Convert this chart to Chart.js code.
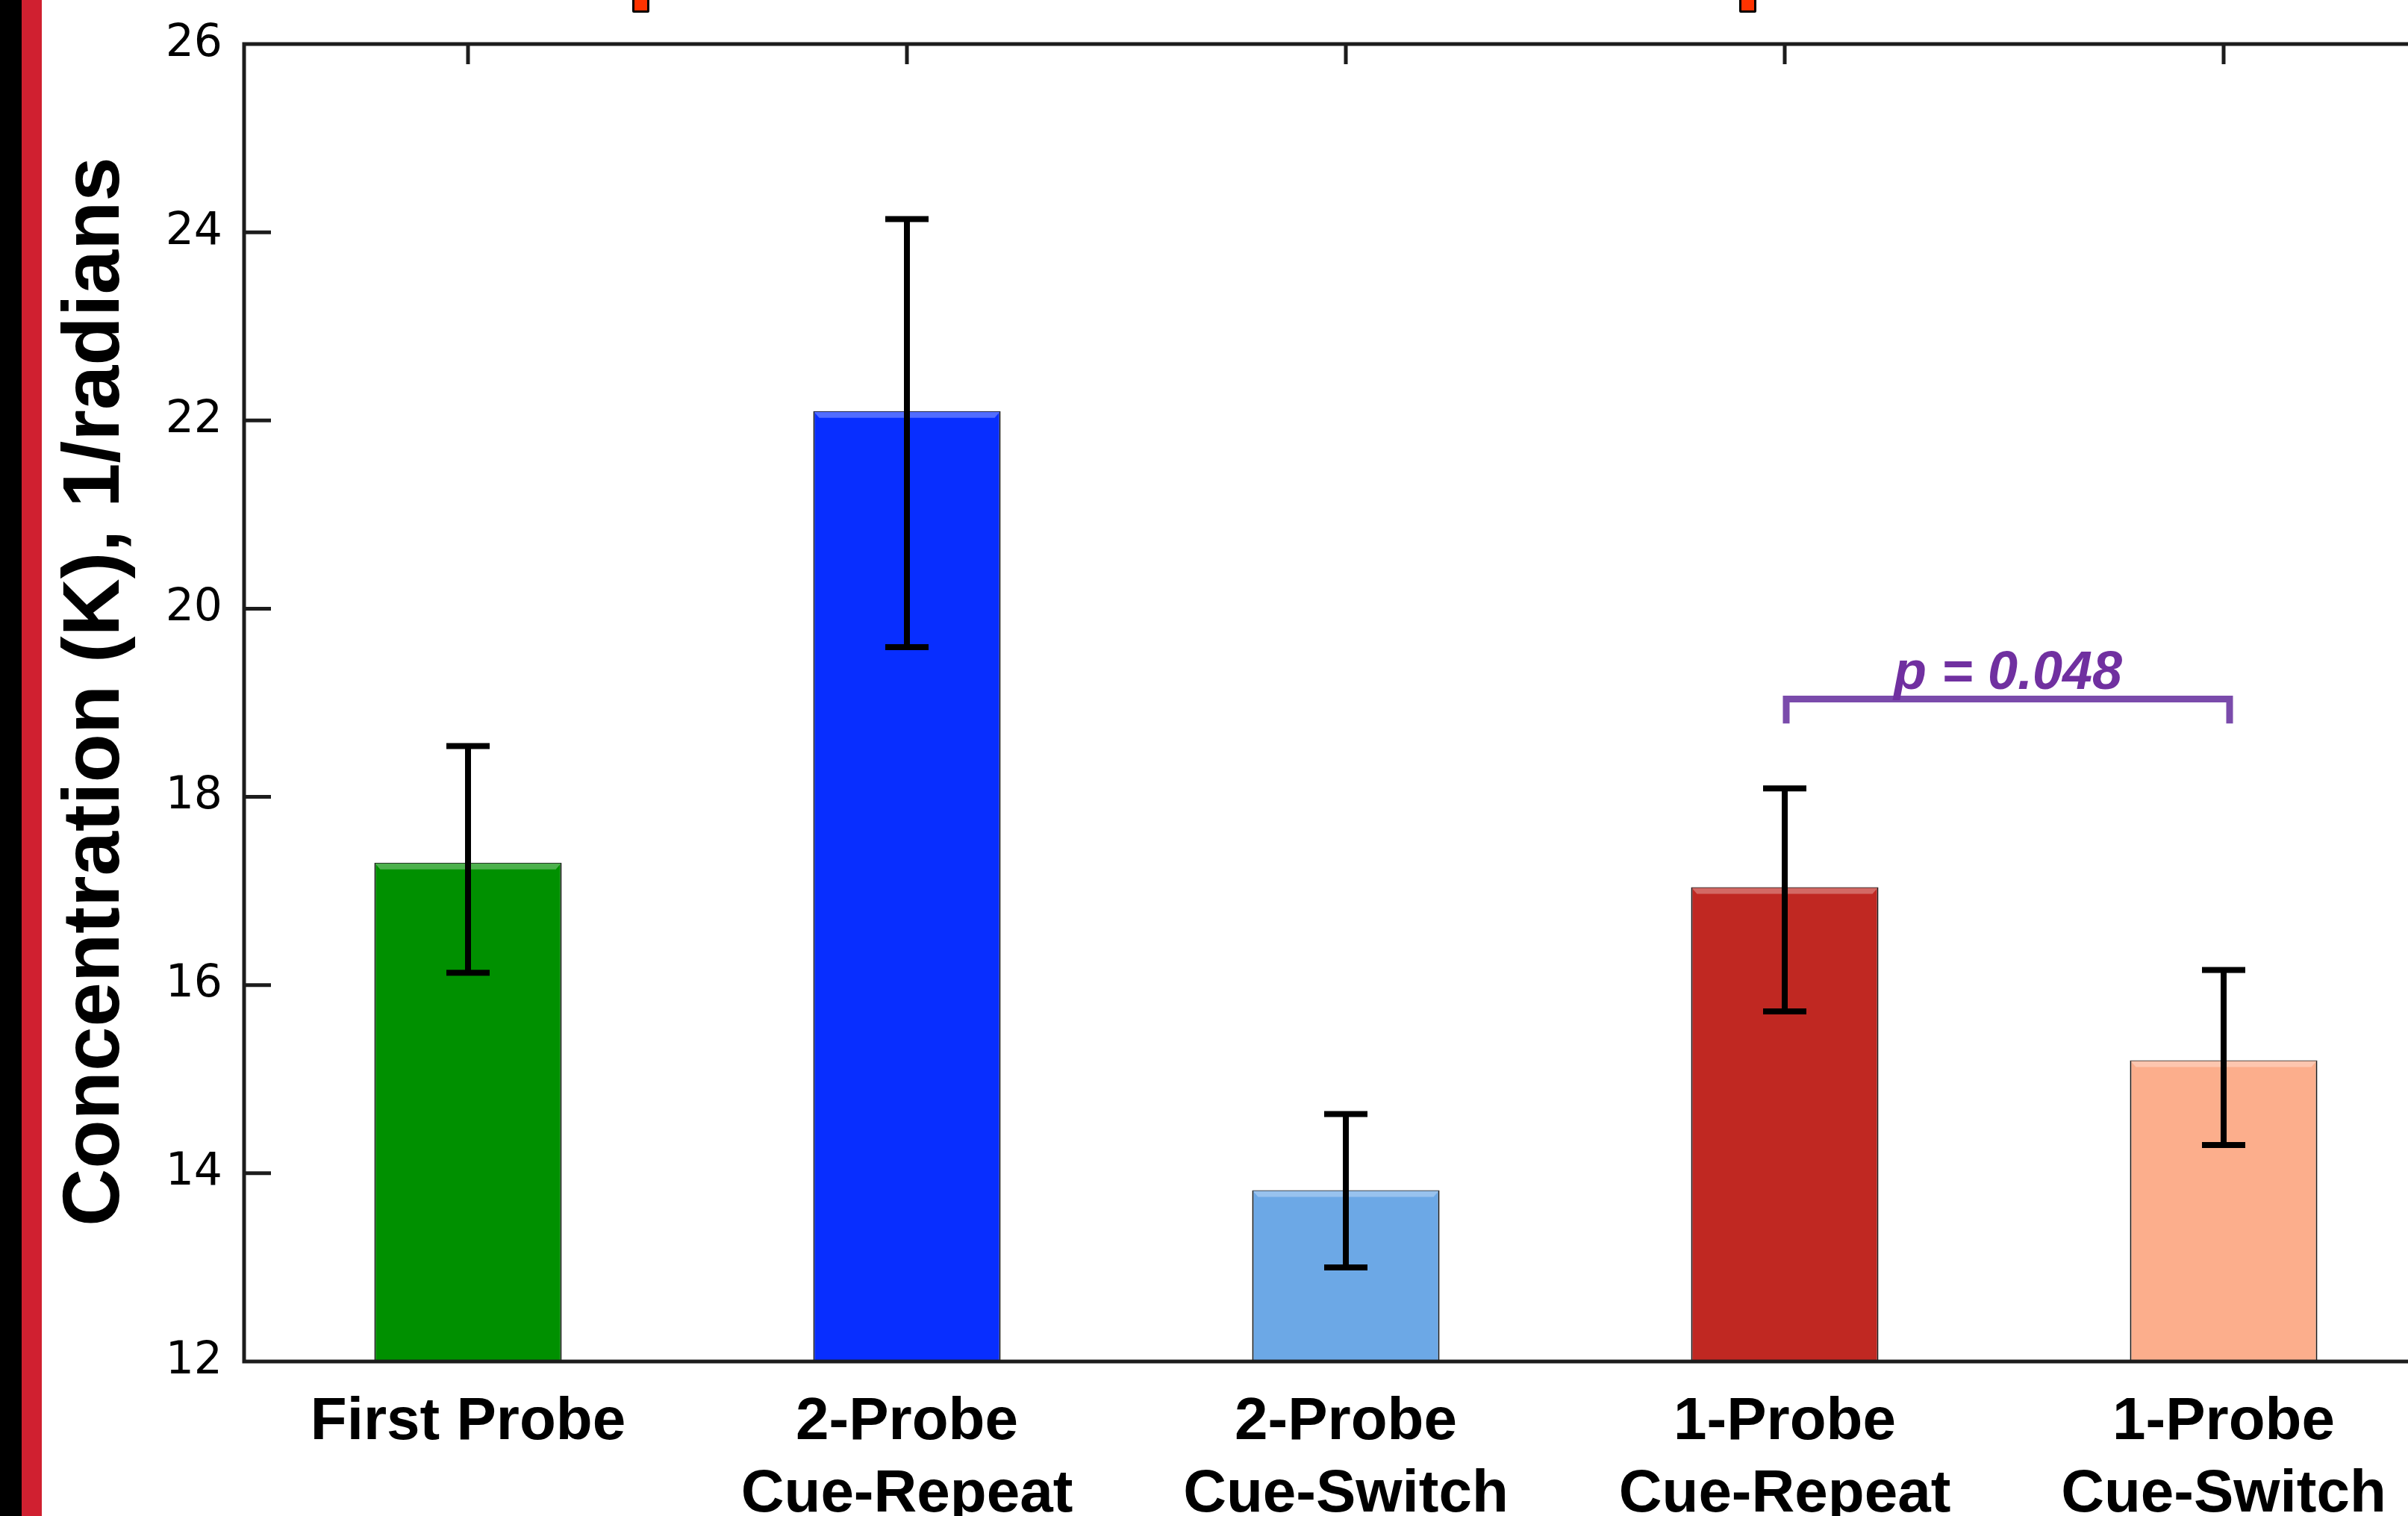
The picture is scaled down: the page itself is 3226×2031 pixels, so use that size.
<!DOCTYPE html>
<html>
<head>
<meta charset="utf-8">
<script src="https://cdn.jsdelivr.net/npm/chart.js@4.4.1/dist/chart.umd.min.js"></script>
<style>
    html, body { margin: 0; padding: 0; background: #ffffff; }
    #page { position: relative; width: 3226px; height: 2031px; overflow: hidden; }
    #chartCanvas { position: absolute; left: 0; top: 0; }
    .stripe { position: absolute; top: 0; height: 2031px; z-index: 2; }
    .cut-bar { position: absolute; top: -4px; width: 17px; height: 15px; background: #ff3300; border: 3px solid #000; border-radius: 2px; z-index: 2; }
</style>
</head>
<body>
<div id="page">
    <div class="stripe" style="left:0; width:29px; background:#000;"></div>
    <div class="stripe" style="left:29px; width:27px; background:#d02030;"></div>
    <div class="cut-bar" style="left:847px;"></div>
    <div class="cut-bar" style="left:2330px;"></div>
    <canvas id="chartCanvas" width="3300" height="2031"></canvas>
</div>
<script>
// Data
const categories = ['First Probe', ['2-Probe', 'Cue-Repeat'], ['2-Probe', 'Cue-Switch'], ['1-Probe', 'Cue-Repeat'], ['1-Probe', 'Cue-Switch']];
const meanValues = [17.3, 22.1, 13.82, 17.04, 15.2];
const errorHigh = [18.54, 24.14, 14.63, 18.09, 16.16];
const errorLow = [16.13, 19.59, 13.0, 15.72, 14.3];
const barColors = ['#009000', '#082eff', '#6ca8e6', '#c02822', '#fcae8c'];
const yMin = 12;
const yMax = 26;
const yStep = 2;

// significance bracket between 1-Probe bars
const pairFrom = 3;
const pairTo = 4;
const bracketLevel = 19.04;
const bracketEnd = 18.78;
const pLabel = 'p = 0.048';

// the drawn axis line sits a little left of the category band
const axisInset = 6;

function lighten(hex, amt) {
    const n = parseInt(hex.slice(1), 16);
    const r = (n >> 16) & 255, g = (n >> 8) & 255, b = n & 255;
    const mix = c => Math.round(c + (255 - c) * amt);
    return `rgb(${mix(r)}, ${mix(g)}, ${mix(b)})`;
}

// bevel on top of bars, error bars, axis box and the p-value bracket
const decorations = {
    id: 'decorations',
    afterDatasetsDraw(chart) {
        const ctx = chart.ctx;
        const area = chart.chartArea;
        const xScale = chart.scales.x;
        const yScale = chart.scales.y;
        const bars = chart.getDatasetMeta(0).data;
        const boxLeft = area.left - axisInset;

        ctx.save();
        bars.forEach((bar, i) => {
            const half = bar.width / 2;
            const l = bar.x - half + 1, r = bar.x + half - 1, t = bar.y + 1;
            ctx.fillStyle = lighten(barColors[i], 0.3);
            ctx.beginPath();
            ctx.moveTo(l, t);
            ctx.lineTo(r, t);
            ctx.lineTo(r - 7, t + 8);
            ctx.lineTo(l + 7, t + 8);
            ctx.closePath();
            ctx.fill();
        });

        // axis box
        ctx.strokeStyle = '#1c1c1c';
        ctx.lineWidth = 5;
        ctx.strokeRect(boxLeft, area.top, area.right - boxLeft, area.bottom - area.top);

        // inward ticks
        ctx.beginPath();
        yScale.ticks.forEach(t => {
            if (t.value === yMin || t.value === yMax) return;
            const py = yScale.getPixelForValue(t.value);
            ctx.moveTo(boxLeft, py);
            ctx.lineTo(boxLeft + 36, py);
        });
        categories.forEach((c, i) => {
            const px = xScale.getPixelForValue(i);
            ctx.moveTo(px, area.top);
            ctx.lineTo(px, area.top + 27);
        });
        ctx.stroke();

        // error bars
        ctx.strokeStyle = '#000';
        ctx.lineWidth = 8;
        ctx.lineCap = 'butt';
        bars.forEach((bar, i) => {
            const hi = yScale.getPixelForValue(errorHigh[i]);
            const lo = yScale.getPixelForValue(errorLow[i]);
            ctx.beginPath();
            ctx.moveTo(bar.x, hi);
            ctx.lineTo(bar.x, lo);
            ctx.moveTo(bar.x - 29, hi);
            ctx.lineTo(bar.x + 29, hi);
            ctx.moveTo(bar.x - 29, lo);
            ctx.lineTo(bar.x + 29, lo);
            ctx.stroke();
        });

        // p-value bracket
        const x1 = xScale.getPixelForValue(pairFrom) + 2;
        const x2 = xScale.getPixelForValue(pairTo) + 8;
        const yb = yScale.getPixelForValue(bracketLevel);
        const ye = yScale.getPixelForValue(bracketEnd);
        ctx.strokeStyle = '#7a4bab';
        ctx.lineWidth = 9;
        ctx.lineJoin = 'miter';
        ctx.beginPath();
        ctx.moveTo(x1, ye);
        ctx.lineTo(x1, yb);
        ctx.lineTo(x2, yb);
        ctx.lineTo(x2, ye);
        ctx.stroke();

        ctx.fillStyle = '#7030a0';
        ctx.font = 'italic bold 72px "Liberation Sans", Arial, sans-serif';
        ctx.textAlign = 'center';
        ctx.textBaseline = 'alphabetic';
        ctx.fillText(pLabel, (x1 + x2) / 2, yb - 13);
        ctx.restore();
    }
};

document.addEventListener('DOMContentLoaded', function() {
    const ctx = document.getElementById('chartCanvas').getContext('2d');
    new Chart(ctx, {
        type: 'bar',
        data: {
            labels: categories,
            datasets: [{
                data: meanValues,
                backgroundColor: barColors,
                borderColor: '#1a1a1a',
                borderWidth: 2,
                borderSkipped: false,
                barPercentage: 0.427,
                categoryPercentage: 1.0
            }]
        },
        options: {
            responsive: false,
            animation: false,
            devicePixelRatio: 1,
            layout: {
                padding: { top: 59, left: 0, right: 27, bottom: 0 }
            },
            plugins: {
                legend: { display: false },
                tooltip: { enabled: false }
            },
            scales: {
                x: {
                    grid: { display: false, drawTicks: false },
                    border: { display: false },
                    afterFit(scale) { scale.height = 207; },
                    ticks: {
                        color: '#000',
                        padding: 34,
                        maxRotation: 0,
                        autoSkip: false,
                        font: { family: '"Liberation Sans", Arial, sans-serif', size: 80, weight: 'bold', lineHeight: 1.21 }
                    }
                },
                y: {
                    min: yMin,
                    max: yMax,
                    grid: { display: false, drawTicks: false },
                    border: { display: false },
                    afterFit(scale) {
                        scale.width = 327 + axisInset;
                        // keep the tick label overhang from pushing the plot area down
                        scale.paddingTop = 0;
                        scale.paddingBottom = 0;
                    },
                    ticks: {
                        stepSize: yStep,
                        color: '#000',
                        padding: 29 + axisInset,
                        font: { family: '"DejaVu Sans", sans-serif', size: 60 }
                    },
                    title: {
                        display: true,
                        text: ' Concentration (K), 1/radians',
                        color: '#000',
                        padding: { top: 76, bottom: 0 },
                        font: { family: '"Liberation Sans", Arial, sans-serif', size: 107, weight: 'bold', lineHeight: 1 }
                    }
                }
            }
        },
        plugins: [decorations]
    });
});
</script>
</body>
</html>
